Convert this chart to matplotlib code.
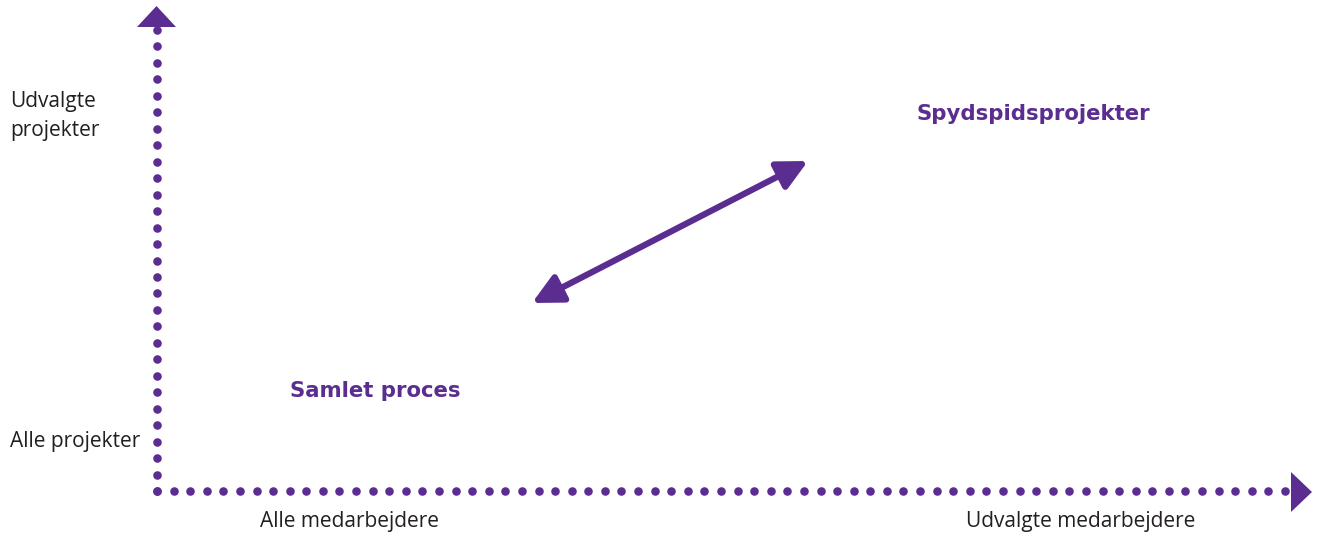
import numpy as np
import matplotlib.pyplot as plt
from matplotlib.patches import FancyArrowPatch, Polygon

purple = '#5b2d90'
textcol = '#231f20'

# schematic: x = medarbejdere, y = projekter
x_labels = ['Alle medarbejdere', 'Udvalgte medarbejdere']
y_labels = ['Alle projekter', 'Udvalgte\nprojekter']
groups = ['Samlet proces', 'Spydspidsprojekter']

W, H = 1320, 540
fig = plt.figure(figsize=(W / 100, H / 100), dpi=100)
ax = fig.add_axes([0, 0, 1, 1])
ax.set_xlim(0, W)
ax.set_ylim(H, 0)
ax.axis('off')

ox, oy = 157, 491

# dotted axes
xd = np.linspace(ox, 1285, 69)
ax.scatter(xd, np.full_like(xd, oy), s=38, color=purple, lw=0, zorder=3)
yd = np.linspace(oy, 30, 29)
ax.scatter(np.full_like(yd, ox), yd, s=38, color=purple, lw=0, zorder=3)

# arrow heads
ax.add_patch(Polygon([[137, 27], [176, 27], [156.5, 6]], color=purple, lw=0, zorder=4))
ax.add_patch(Polygon([[1291, 472], [1291, 512], [1312, 492]], color=purple, lw=0, zorder=4))

# double arrow between the two groups
arr = FancyArrowPatch((532, 303), (808, 161), arrowstyle='<|-|>,head_length=0.9,head_width=0.45',
                      mutation_scale=20, color=purple, lw=4.5, shrinkA=0, shrinkB=0)
ax.add_patch(arr)

fs = 15
fam = 'Open Sans'
ax.text(10, 116, y_labels[1], fontsize=fs, color=textcol, ha='left', va='center',
        family=fam, linespacing=1.45)
ax.text(10, 441, y_labels[0], fontsize=fs, color=textcol, ha='left', va='center', family=fam)
ax.text(349, 522, x_labels[0], fontsize=fs, color=textcol, ha='center', va='center', family=fam)
ax.text(1081, 522, x_labels[1], fontsize=fs, color=textcol, ha='center', va='center', family=fam)

ax.text(290, 391, groups[0], fontsize=15.3, color=purple, ha='left', va='center',
        family='DejaVu Sans', fontweight='bold')
ax.text(917, 114, groups[1], fontsize=15.3, color=purple, ha='left', va='center',
        family='DejaVu Sans', fontweight='bold')

fig.savefig('out.png', dpi=100)
